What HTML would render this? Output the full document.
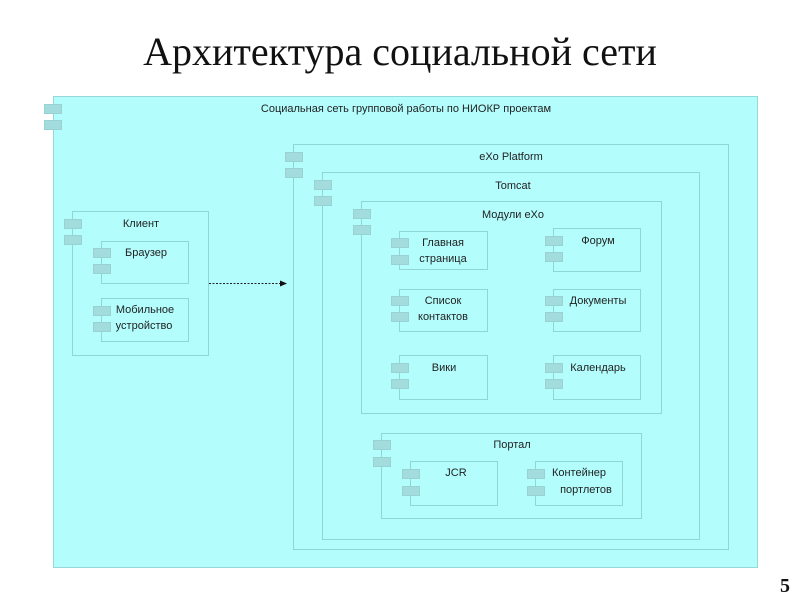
<!DOCTYPE html>
<html><head><meta charset="utf-8">
<style>
body{margin:0;width:800px;height:600px;background:#fff;position:relative;overflow:hidden;font-family:"Liberation Sans","DejaVu Sans",sans-serif;}
.b{position:absolute;border:1px solid #90d6d6;box-sizing:border-box;}
.t{position:absolute;width:18px;height:10px;background:#a3dcdc;border:1px solid #98d2d2;box-sizing:border-box;}
.l{position:absolute;font-size:11px;color:#222;text-align:center;line-height:16px;white-space:nowrap;transform:translateX(-50%);}
</style></head><body>
<div style="position:absolute;left:0;top:28px;width:800px;text-align:center;font-family:'Liberation Serif',serif;font-size:40px;color:#111;">Архитектура социальной сети</div>
<div style="position:absolute;left:780px;top:575px;font-family:'Liberation Serif',serif;font-weight:bold;font-size:20px;color:#111;">5</div>

<div class="b" style="left:53px;top:96px;width:705px;height:472px;background:#b3fdfd;border-color:#9ad8d8"></div>
<div class="t" style="left:44px;top:104px"></div><div class="t" style="left:44px;top:120px"></div>
<div class="l" style="left:406px;top:101px">Социальная сеть групповой работы по НИОКР проектам</div>

<div class="b" style="left:293px;top:144px;width:436px;height:406px"></div>
<div class="t" style="left:285px;top:152px"></div><div class="t" style="left:285px;top:168px"></div>
<div class="l" style="left:511px;top:149px">eXo Platform</div>

<div class="b" style="left:322px;top:172px;width:378px;height:368px"></div>
<div class="t" style="left:314px;top:180px"></div><div class="t" style="left:314px;top:196px"></div>
<div class="l" style="left:513px;top:178px">Tomcat</div>

<div class="b" style="left:361px;top:201px;width:301px;height:213px"></div>
<div class="t" style="left:353px;top:209px"></div><div class="t" style="left:353px;top:225px"></div>
<div class="l" style="left:513px;top:207px">Модули eXo</div>

<div class="b" style="left:399px;top:231px;width:89px;height:39px"></div>
<div class="t" style="left:391px;top:238px"></div><div class="t" style="left:391px;top:255px"></div>
<div class="l" style="left:443px;top:235px">Главная</div><div class="l" style="left:443px;top:251px">страница</div>

<div class="b" style="left:553px;top:228px;width:88px;height:44px"></div>
<div class="t" style="left:545px;top:236px"></div><div class="t" style="left:545px;top:252px"></div>
<div class="l" style="left:598px;top:233px">Форум</div>

<div class="b" style="left:399px;top:289px;width:89px;height:43px"></div>
<div class="t" style="left:391px;top:296px"></div><div class="t" style="left:391px;top:312px"></div>
<div class="l" style="left:443px;top:293px">Список</div><div class="l" style="left:443px;top:309px">контактов</div>

<div class="b" style="left:553px;top:289px;width:88px;height:43px"></div>
<div class="t" style="left:545px;top:296px"></div><div class="t" style="left:545px;top:312px"></div>
<div class="l" style="left:598px;top:293px">Документы</div>

<div class="b" style="left:399px;top:355px;width:89px;height:45px"></div>
<div class="t" style="left:391px;top:363px"></div><div class="t" style="left:391px;top:379px"></div>
<div class="l" style="left:444px;top:360px">Вики</div>

<div class="b" style="left:553px;top:355px;width:88px;height:45px"></div>
<div class="t" style="left:545px;top:363px"></div><div class="t" style="left:545px;top:379px"></div>
<div class="l" style="left:598px;top:360px">Календарь</div>

<div class="b" style="left:381px;top:433px;width:261px;height:86px"></div>
<div class="t" style="left:373px;top:440px"></div><div class="t" style="left:373px;top:457px"></div>
<div class="l" style="left:512px;top:437px">Портал</div>

<div class="b" style="left:410px;top:461px;width:88px;height:45px"></div>
<div class="t" style="left:402px;top:469px"></div><div class="t" style="left:402px;top:486px"></div>
<div class="l" style="left:456px;top:465px">JCR</div>

<div class="b" style="left:535px;top:461px;width:88px;height:45px"></div>
<div class="t" style="left:527px;top:469px"></div><div class="t" style="left:527px;top:486px"></div>
<div class="l" style="left:579px;top:465px">Контейнер</div><div class="l" style="left:586px;top:482px">портлетов</div>

<div class="b" style="left:72px;top:211px;width:137px;height:145px"></div>
<div class="t" style="left:64px;top:219px"></div><div class="t" style="left:64px;top:235px"></div>
<div class="l" style="left:141px;top:216px">Клиент</div>

<div class="b" style="left:101px;top:241px;width:88px;height:43px"></div>
<div class="t" style="left:93px;top:248px"></div><div class="t" style="left:93px;top:264px"></div>
<div class="l" style="left:146px;top:245px">Браузер</div>

<div class="b" style="left:101px;top:298px;width:88px;height:44px"></div>
<div class="t" style="left:93px;top:306px"></div><div class="t" style="left:93px;top:322px"></div>
<div class="l" style="left:145px;top:302px">Мобильное</div><div class="l" style="left:144px;top:318px">устройство</div>

<svg style="position:absolute;left:0;top:0" width="800" height="600">
<line x1="209" y1="283.5" x2="281" y2="283.5" stroke="#222" stroke-width="1" stroke-dasharray="2,1.5"/>
<polygon points="280,280.5 287,283.5 280,286.5" fill="#111"/>
</svg>
</body></html>
